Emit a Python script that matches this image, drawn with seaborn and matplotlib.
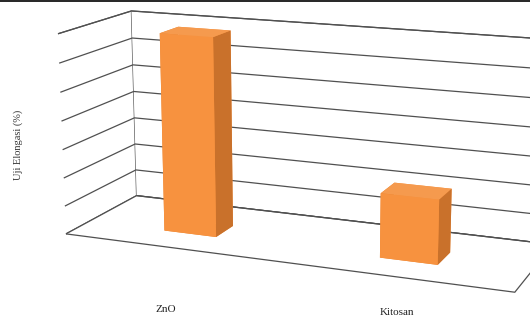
import numpy as np
import matplotlib
matplotlib.use('Agg')
import matplotlib.pyplot as plt
import seaborn as sns
from matplotlib.lines import Line2D

# values (no value axis labels shown)
categories = ['ZnO', 'Kitosan']
elongation = [69.5, 22.0]
grid_levels = [0, 10, 20, 30, 40, 50, 60, 70]

sns.set_theme(style='white')
plt.rcParams['font.family'] = ['Liberation Serif', 'DejaVu Serif']

# face colours: bottom, top, front, back, left, right
face_cols = sns.color_palette(['#E8822F', '#F59A4E', '#F7923F', '#F7923F', '#E8822F', '#C9712B'])
edge_grey = '#505050'

fig = plt.figure(figsize=(5.3, 3.21), dpi=100)
ax = fig.add_axes([0.02, 0.0, 1.1, 1.1], projection='3d')
ax.view_init(elev=14, azim=-68)
ax.set_proj_type('persp', focal_length=0.8)
ax.set_box_aspect((3.4, 1.1, 1.5), zoom=1.48)

xpos = np.arange(len(categories))
w, d = 0.25, 0.27
ax.bar3d(xpos - w / 2, np.full(len(xpos), 0.45 - d / 2), np.zeros(len(xpos)),
         w, d, elongation, color=list(face_cols) * len(xpos), shade=False,
         edgecolor='none', linewidth=0)

ax.set_xlim(-0.5, 1.5)
ax.set_ylim(0, 1)
ax.set_zlim(grid_levels[0], grid_levels[-1])

for axis in (ax.xaxis, ax.yaxis, ax.zaxis):
    axis.set_pane_color((1, 1, 1, 1))
    axis.pane.set_edgecolor(edge_grey)
    axis.pane.set_linewidth(0.9)
    axis.line.set_color((1, 1, 1, 0))
    axis._axinfo['tick']['inward_factor'] = 0
    axis._axinfo['tick']['outward_factor'] = 0
    axis._axinfo['grid'].update(color=(1, 1, 1, 0))

ax.zaxis._axinfo['grid'].update(color=edge_grey, linewidth=0.9, linestyle='-')

ax.set_zticks(grid_levels)
ax.set_zticklabels([])
ax.set_yticks([])
ax.set_xticks(xpos)
ax.set_xticklabels([])

# Excel put both category labels on roughly one line well below the floor
label_xy = [(0.312, 0.035), (0.749, 0.026)]
for name, (lx, ly) in zip(categories, label_xy):
    fig.text(lx, ly, name, fontsize=8, ha='center', va='center', color='#222222')

fig.text(0.035, 0.55, 'Uji Elongasi (%)', rotation=90, fontsize=7.5,
         ha='center', va='center', color='#333333')

# border left over from the page at the very top
fig.add_artist(Line2D([0, 1], [0.996, 0.996], color='black', lw=1.2,
                      transform=fig.transFigure))

fig.savefig('out.png', dpi=100)
